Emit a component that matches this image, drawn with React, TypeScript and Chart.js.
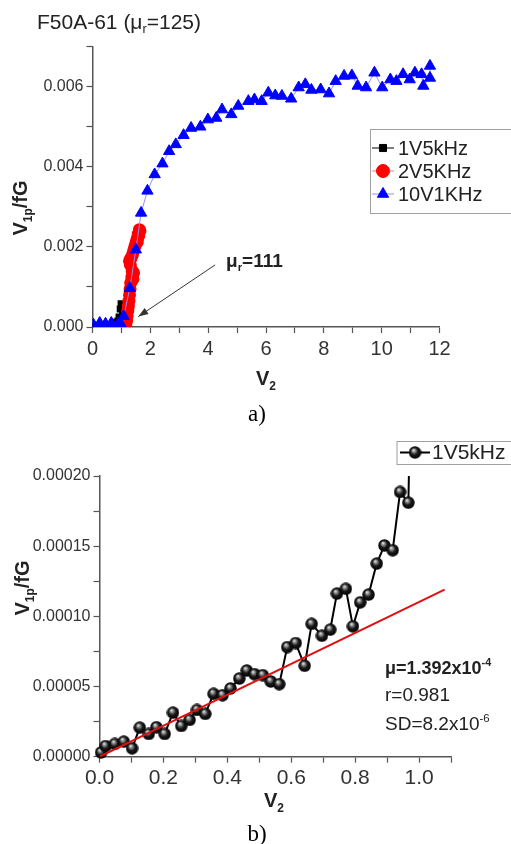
import React, { useEffect, useRef } from "react";
import { Chart, registerables } from "chart.js";
import { drawPoint } from "chart.js/helpers";

Chart.register(...registerables);

// ---------- Chart a) data ----------
const aBlackX = [0.02, 0.1, 0.2, 0.3, 0.4, 0.5, 0.6, 0.7, 0.8, 0.88, 0.92, 0.96, 0.99, 1.02, 1.05, 1.08, 1.1];
const aBlackY = [0.00001, 0.00002, 0.00002, 0.00003, 0.00005, 0.00006, 0.00006, 0.00008, 0.00012, 0.00015, 0.00025, 0.00045, 0.00058, 0.0005, 0.00038, 0.00022, 0.0001];

const aRedX = [1.15, 1.18, 1.2, 1.22, 1.24, 1.26, 1.28, 1.3, 1.32, 1.36, 1.42, 1.4, 1.37, 1.31, 1.28, 1.33, 1.38, 1.42, 1.46, 1.5, 1.54, 1.58, 1.62, 1.64, 1.6, 1.55];
const aRedY = [0.00005, 0.00015, 0.00028, 0.0004, 0.00052, 0.00065, 0.0008, 0.00095, 0.0011, 0.00125, 0.00135, 0.0012, 0.0014, 0.00155, 0.00165, 0.00172, 0.0018, 0.0019, 0.002, 0.0021, 0.0022, 0.00232, 0.00243, 0.0024, 0.00228, 0.00212];

const aBlueX = [0.03, 0.25, 0.45, 0.65, 0.88, 1.0, 1.08, 1.29, 1.5, 1.68, 1.9, 2.15, 2.42, 2.65, 2.88, 3.15, 3.41, 3.73, 3.99, 4.28, 4.48, 4.8, 5.04, 5.39, 5.6, 5.85, 6.08, 6.32, 6.55, 6.87, 7.13, 7.36, 7.57, 7.89, 8.18, 8.41, 8.7, 8.97, 9.17, 9.46, 9.75, 10.02, 10.3, 10.51, 10.74, 10.97, 11.15, 11.38, 11.44, 11.67, 11.67];
const aBlueY = [0.00006, 0.0001, 0.00008, 0.0001, 0.00008, 0.00005, 0.00027, 0.00097, 0.00193, 0.00285, 0.0034, 0.00381, 0.00408, 0.00439, 0.00456, 0.00479, 0.00497, 0.005, 0.00518, 0.00522, 0.00543, 0.00531, 0.00552, 0.00564, 0.00568, 0.00564, 0.00585, 0.00578, 0.00577, 0.0057, 0.00598, 0.00606, 0.00592, 0.00593, 0.00583, 0.00614, 0.00627, 0.00628, 0.00602, 0.00598, 0.00635, 0.00598, 0.00618, 0.00614, 0.00631, 0.00618, 0.00635, 0.00631, 0.00602, 0.00622, 0.00652];

const aLabels = ["1V5kHz", "2V5KHz", "10V1KHz"];
// arrow annotation (data units): from text to the curve foot
const aArrowFrom = [4.24, 0.00155];
const aArrowTo = [1.585, 0.00026];

// ---------- Chart b) data ----------
const bX = [0.005, 0.019, 0.048, 0.076, 0.102, 0.126, 0.154, 0.178, 0.204, 0.23, 0.256, 0.282, 0.305, 0.331, 0.357, 0.385, 0.41, 0.4375, 0.461, 0.485, 0.511, 0.536, 0.5625, 0.5875, 0.614, 0.642, 0.664, 0.696, 0.722, 0.743, 0.771, 0.793, 0.816, 0.842, 0.8675, 0.8916, 0.9175, 0.9406, 0.9666, 0.972, 1.0];
const bY = [0.000003, 0.0000076, 0.0000091, 0.0000107, 0.000006, 0.0000207, 0.0000162, 0.000021, 0.0000162, 0.0000314, 0.0000219, 0.0000262, 0.0000333, 0.0000305, 0.0000448, 0.0000438, 0.0000486, 0.0000557, 0.0000614, 0.0000588, 0.0000581, 0.0000536, 0.0000517, 0.0000781, 0.000081, 0.0000648, 0.0000946, 0.0000862, 0.0000905, 0.0001162, 0.0001196, 0.0000929, 0.00011, 0.0001155, 0.0001376, 0.0001505, 0.0001471, 0.0001886, 0.000181, 0.000245, 0.000212];
const bFitX = [0, 1.08];
const bFitY = [0, 0.000119];
const bLabel = "1V5kHz";

const FONT = "'Liberation Sans', Arial, Helvetica, sans-serif";
const SERIF = "'Liberation Serif', 'Times New Roman', serif";

function makeBall(d: number) {
  const c = document.createElement("canvas");
  c.width = d;
  c.height = d;
  const g = c.getContext("2d")!;
  const r = d / 2;
  const grad = g.createRadialGradient(r * 0.75, r * 0.6, 0, r, r, r);
  grad.addColorStop(0, "#ffffff");
  grad.addColorStop(0.22, "#9a9a9a");
  grad.addColorStop(0.55, "#1a1a1a");
  grad.addColorStop(1, "#000000");
  g.fillStyle = grad;
  g.beginPath();
  g.arc(r, r, r - 0.3, 0, Math.PI * 2);
  g.fill();
  return c;
}

const boxLegend = {
  id: "boxLegend",
  afterDraw(chart: any, _a: any, o: any) {
    if (!o || !o.rows) return;
    const ctx = chart.ctx;
    ctx.save();
    ctx.fillStyle = "#ffffff";
    ctx.strokeStyle = "#a0a0a0";
    ctx.lineWidth = 1;
    ctx.fillRect(o.x, o.y, o.w, o.h);
    ctx.strokeRect(o.x + 0.5, o.y + 0.5, o.w, o.h);
    const items: number[] = o.items;
    items.forEach((di: number, k: number) => {
      const ds = chart.data.datasets[di];
      const yy = o.rows[k];
      ctx.strokeStyle = ds.borderColor;
      ctx.lineWidth = ds.borderWidth || 1;
      ctx.beginPath();
      ctx.moveTo(o.lineX0, yy);
      ctx.lineTo(o.lineX1, yy);
      ctx.stroke();
      const mx = (o.lineX0 + o.lineX1) / 2;
      if (typeof ds.pointStyle === "object") {
        const img = ds.pointStyle as HTMLCanvasElement;
        ctx.drawImage(img, mx - img.width / 2, yy - img.height / 2);
      } else {
        ctx.fillStyle = ds.pointBackgroundColor || ds.backgroundColor;
        ctx.strokeStyle = ds.pointBackgroundColor || ds.backgroundColor;
        drawPoint(ctx, { pointStyle: ds.pointStyle, radius: ds.pointRadius, rotation: 0, borderWidth: 1 } as any, mx, yy);
      }
      ctx.fillStyle = "#222";
      ctx.font = `${o.fontSize}px ${FONT}`;
      ctx.textBaseline = "middle";
      ctx.textAlign = "left";
      ctx.fillText(ds.label, o.textX, yy + 1);
    });
    ctx.restore();
  },
};

const arrowNote = {
  id: "arrowNote",
  afterDraw(chart: any, _a: any, o: any) {
    if (!o || !o.from) return;
    const xs = chart.scales.x;
    const ys = chart.scales.y;
    const x0 = xs.getPixelForValue(o.from[0]);
    const y0 = ys.getPixelForValue(o.from[1]);
    const x1 = xs.getPixelForValue(o.to[0]);
    const y1 = ys.getPixelForValue(o.to[1]);
    const ctx = chart.ctx;
    ctx.save();
    ctx.strokeStyle = "#333";
    ctx.fillStyle = "#333";
    ctx.lineWidth = 1;
    ctx.beginPath();
    ctx.moveTo(x0, y0);
    ctx.lineTo(x1, y1);
    ctx.stroke();
    const ang = Math.atan2(y1 - y0, x1 - x0);
    const L = 10;
    const W = 3.5;
    ctx.beginPath();
    ctx.moveTo(x1, y1);
    ctx.lineTo(x1 - L * Math.cos(ang) + W * Math.sin(ang), y1 - L * Math.sin(ang) - W * Math.cos(ang));
    ctx.lineTo(x1 - L * Math.cos(ang) - W * Math.sin(ang), y1 - L * Math.sin(ang) + W * Math.cos(ang));
    ctx.closePath();
    ctx.fill();
    ctx.restore();
  },
};

const pts = (xs: number[], ys: number[]) => xs.map((x, i) => ({ x, y: ys[i] }));

function axisCommon(fontSize: number) {
  return {
    grid: { drawOnChartArea: false, tickLength: 6, tickColor: "#555", tickWidth: 1.2 },
    border: { color: "#555", width: 1.5 },
    ticks: { font: { family: FONT, size: fontSize }, color: "#333", autoSkip: false, maxRotation: 0, padding: 3 },
  };
}

export default function App() {
  const refA = useRef<HTMLCanvasElement>(null);
  const refB = useRef<HTMLCanvasElement>(null);

  useEffect(() => {
    const ball = makeBall(13);
    const xa = axisCommon(20);
    const ya = axisCommon(16);
    const chartA = new Chart(refA.current!, {
      type: "scatter",
      data: {
        datasets: [
          { label: aLabels[0], data: pts(aBlackX, aBlackY), showLine: true, borderColor: "#000", backgroundColor: "#000", pointBackgroundColor: "#000", borderWidth: 1, pointStyle: "rect", pointRadius: 5, pointBorderWidth: 0, order: 2 },
          { label: aLabels[1], data: pts(aRedX, aRedY), showLine: true, borderColor: "#ff7070", backgroundColor: "#ff0000", pointBackgroundColor: "#ff0000", pointBorderColor: "#ff0000", borderWidth: 1, pointStyle: "circle", pointRadius: 6.5, pointBorderWidth: 0, order: 1 },
          { label: aLabels[2], data: pts(aBlueX, aBlueY), showLine: true, borderColor: "#9090ff", backgroundColor: "#0000ff", pointBackgroundColor: "#0000ff", pointBorderColor: "#0000ff", borderWidth: 1, pointStyle: "triangle", pointRadius: 6.5, pointBorderWidth: 1, order: 0 },
        ],
      } as any,
      options: {
        responsive: false,
        animation: false,
        events: [],
        layout: { padding: { left: 0, right: 71.5, top: 46.7, bottom: 23 } },
        elements: { line: { tension: 0 } },
        plugins: {
          legend: { display: false },
          tooltip: { enabled: false },
          boxLegend: { items: [0, 1, 2], x: 370, y: 129, w: 150, h: 84, rows: [148, 171, 194], lineX0: 372, lineX1: 394, textX: 398, fontSize: 20 },
          arrowNote: { from: aArrowFrom, to: aArrowTo },
        } as any,
        scales: {
          x: {
            type: "linear", min: 0, max: 12,
            afterFit: (s: any) => { s.height = 50; },
            grid: xa.grid, border: xa.border,
            ticks: { ...xa.ticks, stepSize: 1, padding: 4, callback: (v: any) => (Math.round(v) % 2 === 0 ? String(Math.round(v)) : "") },
          },
          y: {
            type: "linear", min: 0, max: 0.007,
            afterFit: (s: any) => { s.width = 92.5; },
            grid: ya.grid, border: ya.border,
            ticks: { ...ya.ticks, stepSize: 0.001, callback: (v: any) => (Math.round(v / 0.001) % 2 === 0 ? Number(v).toFixed(3) : "") },
          },
        } as any,
      },
      plugins: [boxLegend, arrowNote],
    });

    const xb = axisCommon(21);
    const yb = axisCommon(16);
    const chartB = new Chart(refB.current!, {
      type: "scatter",
      data: {
        datasets: [
          { label: bLabel, data: pts(bX, bY), showLine: true, borderColor: "#000", backgroundColor: "#000", borderWidth: 2, pointStyle: ball, clip: { left: 12, right: 12, top: 0, bottom: 12 }, order: 1 },
          { label: "fit", data: pts(bFitX, bFitY), showLine: true, borderColor: "#e01010", borderWidth: 2, pointRadius: 0, order: 0 },
        ],
      } as any,
      options: {
        responsive: false,
        animation: false,
        events: [],
        layout: { padding: { left: 0, right: 60, top: 36, bottom: 37.3 } },
        elements: { line: { tension: 0 } },
        plugins: {
          legend: { display: false },
          tooltip: { enabled: false },
          boxLegend: { items: [0], x: 396.5, y: 1, w: 130, h: 23, rows: [12.5], lineX0: 400, lineX1: 430, textX: 432, fontSize: 21 },
        } as any,
        scales: {
          x: {
            type: "linear", min: 0, max: 1.1,
            afterFit: (s: any) => { s.height = 50; },
            grid: xb.grid, border: xb.border,
            ticks: { ...xb.ticks, stepSize: 0.1, padding: 3, callback: (v: any) => (Math.round(v / 0.1) % 2 === 0 ? Number(v).toFixed(1) : "") },
          },
          y: {
            type: "linear", min: 0, max: 0.0002,
            afterFit: (s: any) => { s.width = 99.5; },
            grid: yb.grid, border: yb.border,
            ticks: { ...yb.ticks, stepSize: 0.000025, callback: (v: any) => (Math.round(v / 0.000025) % 2 === 0 ? Number(v).toFixed(5) : "") },
          },
        } as any,
      },
      plugins: [boxLegend],
    });

    return () => {
      chartA.destroy();
      chartB.destroy();
    };
  }, []);

  const txt: React.CSSProperties = { position: "absolute", fontFamily: FONT, color: "#222", whiteSpace: "nowrap", lineHeight: 1 };
  const center: React.CSSProperties = { transform: "translate(-50%, -50%)" };
  const sub: React.CSSProperties = { fontSize: "0.6em", verticalAlign: "-0.35em" };
  const sup: React.CSSProperties = { fontSize: "0.6em", verticalAlign: "0.7em" };

  return (
    <div style={{ position: "fixed", left: 0, top: 0, width: 511, height: 844, background: "#fff", overflow: "hidden" }}>
      <canvas ref={refA} width={511} height={400} style={{ position: "absolute", left: 0, top: 0, width: 511, height: 400 }} />
      <canvas ref={refB} width={511} height={404} style={{ position: "absolute", left: 0, top: 440, width: 511, height: 404 }} />

      <div style={{ ...txt, left: 37, top: 11, fontSize: 21 }}>
        F50A-61 (μ<span style={sub}>r</span>=125)
      </div>
      <div style={{ ...txt, left: 22, top: 208, fontSize: 20, fontWeight: "bold", transform: "translate(-50%, -50%) rotate(-90deg)" }}>
        V<span style={sub}>1p</span>/fG
      </div>
      <div style={{ ...txt, ...center, left: 266, top: 380, fontSize: 20, fontWeight: "bold" }}>
        V<span style={sub}>2</span>
      </div>
      <div style={{ ...txt, ...center, left: 257, top: 413, fontSize: 23, fontFamily: SERIF, color: "#000" }}>a)</div>
      <div style={{ ...txt, left: 226, top: 251, fontSize: 19, fontWeight: "bold" }}>
        μ<span style={sub}>r</span>=111
      </div>

      <div style={{ ...txt, left: 24, top: 588, fontSize: 20, fontWeight: "bold", transform: "translate(-50%, -50%) rotate(-90deg)" }}>
        V<span style={sub}>1p</span>/fG
      </div>
      <div style={{ ...txt, ...center, left: 274, top: 802, fontSize: 20, fontWeight: "bold" }}>
        V<span style={sub}>2</span>
      </div>
      <div style={{ ...txt, ...center, left: 257, top: 833, fontSize: 23, fontFamily: SERIF, color: "#000" }}>b)</div>
      <div style={{ ...txt, left: 385, top: 657, fontSize: 18, fontWeight: "bold" }}>
        μ=1.392x10<span style={sup}>-4</span>
      </div>
      <div style={{ ...txt, left: 385, top: 685, fontSize: 19 }}>r=0.981</div>
      <div style={{ ...txt, left: 385, top: 713, fontSize: 19 }}>
        SD=8.2x10<span style={sup}>-6</span>
      </div>
    </div>
  );
}
